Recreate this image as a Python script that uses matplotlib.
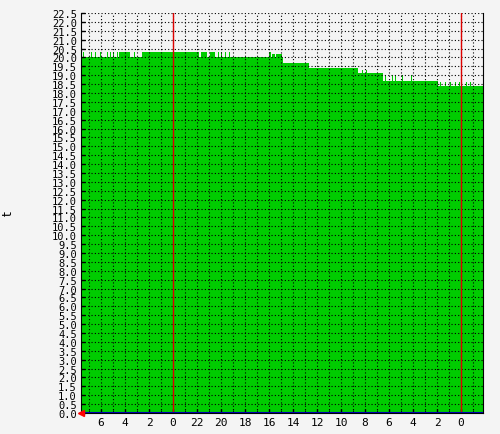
import numpy as np
import matplotlib
matplotlib.use("Agg")
import matplotlib.pyplot as plt

# hours relative to the first midnight shown, step values (post)
hours = [-7.67, -7.5, -7.42, -6.83, -6.75, -6.5, -6.42, -6.08, -6.0, -5.5, -5.42, -5.25, -5.17,
         -5.0, -4.92, -4.67, -4.58, -4.5, -3.58, -3.25, -3.17, -2.58, 2.17, 2.33, 2.83, 3.08,
         3.5, 3.75, 3.83, 4.0, 4.08, 4.33, 4.42, 4.67, 4.75, 8.0, 8.17, 8.25, 8.5, 8.58, 9.08,
         9.17, 11.33, 15.42, 15.75, 15.83, 16.08, 16.17, 17.5, 17.67, 17.75, 18.25, 18.33, 18.5,
         18.58, 19.08, 19.17, 19.83, 19.92, 22.08, 22.25, 22.33, 22.67, 22.75, 23.08, 23.17,
         23.5, 23.58, 23.83, 23.92, 24.42, 24.5, 24.75, 24.83, 25.83]
temps = [20.0, 20.3, 20.0, 20.3, 20.0, 20.3, 20.0, 20.3, 20.0, 20.3, 20.0, 20.3, 20.0,
         20.3, 20.0, 20.3, 20.0, 20.3, 20.0, 20.3, 20.0, 20.3, 20.0, 20.3, 20.0, 20.3,
         20.0, 20.3, 20.0, 20.3, 20.0, 20.3, 20.0, 20.3, 20.0, 20.3, 20.0, 20.2, 20.0, 20.2, 20.0,
         19.7, 19.4, 19.1, 19.3, 19.1, 19.3, 19.1, 18.65, 19.0, 18.65, 19.0, 18.65, 19.0,
         18.65, 19.0, 18.65, 19.0, 18.65, 18.4, 18.6, 18.4, 18.6, 18.4, 18.6, 18.4,
         18.6, 18.4, 18.6, 18.4, 18.6, 18.4, 18.6, 18.4, 18.4]
y_max = 22.5
x_start, x_end = -7.67, 25.83

bg = "#f4f4f4"
fig = plt.figure(figsize=(5.0, 4.35), dpi=100, facecolor=bg)
ax = fig.add_axes([81/500, 21/435, 402/500, 400/435])
ax.set_facecolor(bg)

ax.fill_between(hours, 0, temps, step="post", color="#00cc00", linewidth=0, zorder=1)

ax.set_xlim(x_start, x_end)
ax.set_ylim(0, y_max)

yt = np.arange(0, y_max + 0.01, 0.5)
ax.set_yticks(yt)
ax.set_yticklabels([f"{v:.1f}" for v in yt], family="DejaVu Sans Mono", fontsize=7.5)
xt = np.arange(-6, 26, 2)
ax.set_xticks(xt)
# axis counts hours back, so labels run downwards
ax.set_xticklabels([str(int((-h) % 24)) for h in xt], family="DejaVu Sans Mono", fontsize=8)
ax.set_xticks(np.arange(-7, 26, 1), minor=True)
ax.tick_params(axis="both", direction="in", length=3, width=1, pad=3, color="black")
ax.tick_params(axis="x", which="minor", direction="in", length=2)

ax.grid(True, which="both", axis="x", linestyle=(0, (1, 2)), color="black", linewidth=0.8, zorder=2)
ax.grid(True, which="major", axis="y", linestyle=(0, (1, 2)), color="black", linewidth=0.8, zorder=2)
ax.set_axisbelow(False)

for m in (0, 24):
    ax.axvline(m, color="#dd0000", linewidth=1, zorder=3)
ax.axhline(0, color="#0000aa", linewidth=1.5, zorder=3)

for s in ax.spines.values():
    s.set_color("black")
ax.spines["top"].set_visible(False)

ax.set_ylabel("t", fontsize=9)
ax.yaxis.set_label_coords(-66/402, 0.5)
ax.plot([x_start], [0], marker="<", color="red", markersize=5, clip_on=False, zorder=4)

fig.savefig("out.png", dpi=100, facecolor=bg)
